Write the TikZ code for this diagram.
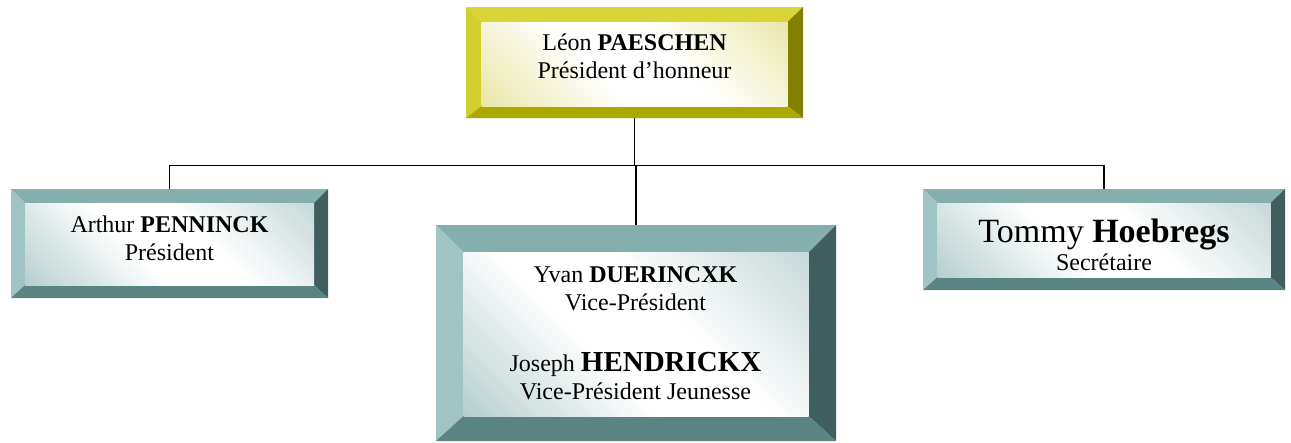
\documentclass[tikz,border=0pt]{standalone}
\usepackage{fontspec}
\setmainfont{Liberation Serif}
\usetikzlibrary{calc}
\definecolor{tealT}{HTML}{85AFAD}
\definecolor{tealL}{HTML}{A0C4C3}
\definecolor{tealB}{HTML}{5A8482}
\definecolor{tealR}{HTML}{3F5E5D}
\definecolor{tealA}{HTML}{8FB5B4}
\definecolor{tealZ}{HTML}{A8C3C3}
\definecolor{goldT}{HTML}{D9D538}
\definecolor{goldL}{HTML}{D2CE2E}
\definecolor{goldB}{HTML}{ACA800}
\definecolor{goldR}{HTML}{828000}
\definecolor{goldA}{HTML}{DEDA78}
\definecolor{goldZ}{HTML}{E0DC7E}
\pgfdeclarehorizontalshading{tealface}{100bp}{color(0bp)=(tealA); color(42bp)=(white); color(58bp)=(white); color(100bp)=(tealZ)}
\pgfdeclarehorizontalshading{goldface}{100bp}{color(0bp)=(goldA); color(42bp)=(white); color(58bp)=(white); color(100bp)=(goldZ)}
% #1 name, #2 palette, #3 x1, #4 y1, #5 x2, #6 y2, #7 side bevel, #8 top bevel, #9 bottom bevel
\newcommand{\bevelbox}[9]{%
  \fill[#2T] (#3,#4) -- (#5,#4) -- ({#5-#7},{#4+#8}) -- ({#3+#7},{#4+#8}) -- cycle;
  \fill[#2L] (#3,#4) -- ({#3+#7},{#4+#8}) -- ({#3+#7},{#6-#9}) -- (#3,#6) -- cycle;
  \fill[#2R] (#5,#4) -- (#5,#6) -- ({#5-#7},{#6-#9}) -- ({#5-#7},{#4+#8}) -- cycle;
  \fill[#2B] (#3,#6) -- ({#3+#7},{#6-#9}) -- ({#5-#7},{#6-#9}) -- (#5,#6) -- cycle;
  \shade[shading=#2face, shading angle=45] ({#3+#7},{#4+#8}) rectangle ({#5-#7},{#6-#9});
  \node[inner sep=0pt, outer sep=0pt, minimum width={#5-#3}, minimum height={#6-#4}] (#1) at ({(#3+#5)/2},{(#4+#6)/2}) {};
}
\begin{document}
\begin{tikzpicture}[x=1pt,y=-1pt,
  txt/.style={align=center, inner sep=0pt, font=\fontsize{24}{28}\selectfont},
  conn/.style={draw=black, line width=1.6pt}]
\useasboundingbox (0,0) rectangle (1291,442);
\bevelbox{top}{gold}{466}{7}{803}{118}{15.5}{15}{12}
\bevelbox{left}{teal}{11}{189}{328}{298}{14}{14}{13}
\bevelbox{center}{teal}{436}{225}{836}{441}{27.5}{27.5}{25}
\bevelbox{right}{teal}{923}{189}{1285}{290}{14.5}{14}{13}

\node[txt] (topT) at (634.5,56) {Léon \textbf{PAESCHEN}\\Président d’honneur};
\node[txt] (leftT) at (169.5,238.3) {Arthur \textbf{PENNINCK}\\Président};
\node[txt] (centerT) at (635.5,332.8) {Yvan \textbf{DUERINCXK}\\Vice-Président\\[33pt]Joseph {\fontsize{29}{28}\selectfont\textbf{HENDRICKX}}\\Vice-Président Jeunesse};
\node[txt] (rightT) at (1104,244.4) {{\fontsize{34}{28}\selectfont Tommy \textbf{Hoebregs}}\\Secrétaire};

\coordinate (bus) at (634.5,165.5);
\draw[conn] (top.south) -- (top.south |- bus);
\draw[conn] (left.north) |- (bus) -| (right.north);
\draw[conn] (center.north) -- (center.north |- bus);
\end{tikzpicture}
\end{document}
